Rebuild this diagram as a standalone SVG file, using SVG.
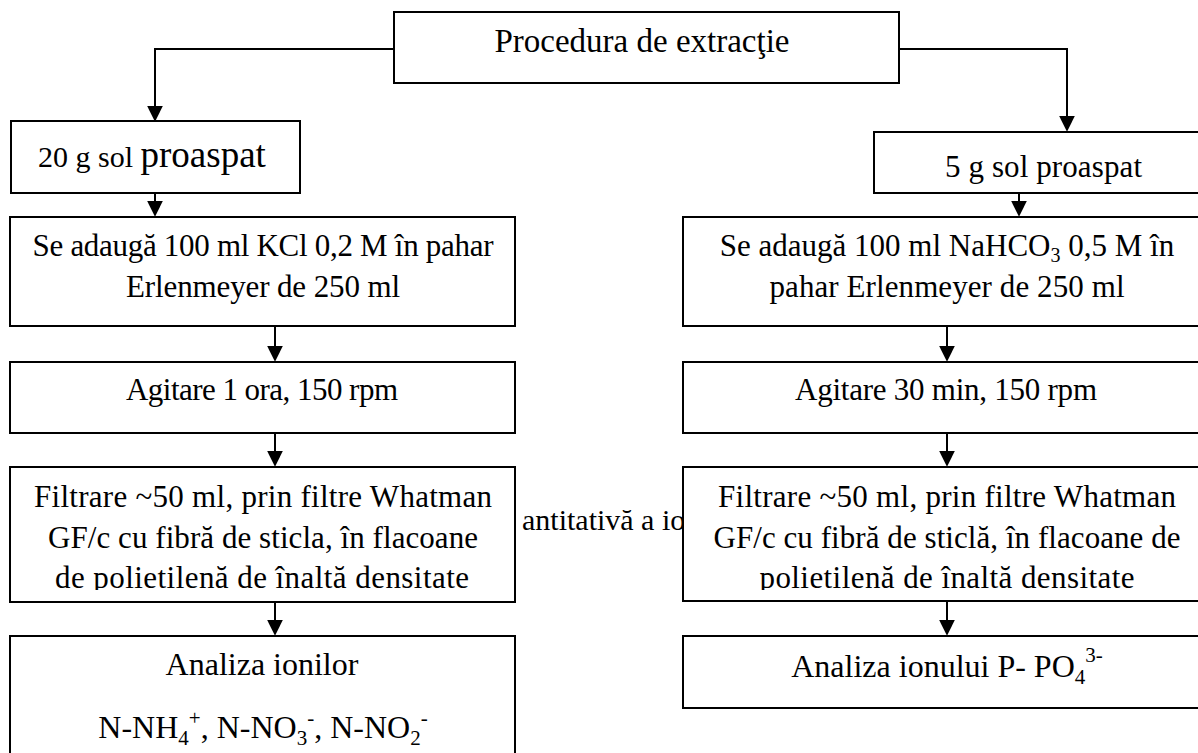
<svg xmlns="http://www.w3.org/2000/svg" width="1198" height="753" viewBox="0 0 1198 753">
<style>
.box{fill:#fff;stroke:#000;stroke-width:2}
.c{fill:none;stroke:#000;stroke-width:2}
.t{font-family:"Liberation Serif","Times New Roman",serif;font-size:32px;fill:#000}
.k{font-family:"Liberation Serif","Times New Roman",serif;font-size:31px;fill:#000}
.m{text-anchor:middle}
</style>
<defs>
<marker id="ah" markerUnits="userSpaceOnUse" markerWidth="16" markerHeight="16" viewBox="0 0 15 15" refX="5" refY="7.5" orient="auto">
<path d="M0,0 L15,7.5 L0,15 z" fill="#000"/>
</marker>
<clipPath id="clipL"><rect x="10" y="467" width="505" height="123"/></clipPath>
<clipPath id="clipR"><rect x="683" y="467" width="528" height="123"/></clipPath>
</defs>
<rect width="1198" height="753" fill="#fff"/>
<text class="t" x="522" y="530" style="font-size:30px">antitativă a io</text>
<g id="connectors">
<path class="c" d="M394,49 H155 V111" marker-end="url(#ah)"/>
<path class="c" d="M899,49 H1067 V121" marker-end="url(#ah)"/>
<path class="c" d="M155,193 V206" marker-end="url(#ah)"/>
<path class="c" d="M275,326 V351" marker-end="url(#ah)"/>
<path class="c" d="M275,433 V456" marker-end="url(#ah)"/>
<path class="c" d="M275,602 V625" marker-end="url(#ah)"/>
<path class="c" d="M1019,193 V206" marker-end="url(#ah)"/>
<path class="c" d="M947,326 V351" marker-end="url(#ah)"/>
<path class="c" d="M947,433 V456" marker-end="url(#ah)"/>
<path class="c" d="M947,601 V625" marker-end="url(#ah)"/>
</g>
<g id="top">
<rect class="box" x="394" y="12" width="505" height="71"/>
<text class="t m" x="642" y="52" style="font-size:33px">Procedura de extracţie</text>
</g>
<g id="left1">
<rect class="box" x="11" y="121" width="289" height="72"/>
<text class="k" x="38" y="167" style="font-size:30px">20 g sol <tspan style="font-size:37px">proaspat</tspan></text>
</g>
<g id="right1">
<rect class="box" x="874" y="132" width="340" height="61"/>
<text class="k" x="945" y="177" textLength="197">5 g sol proaspat</text>
</g>
<g id="left2">
<rect class="box" x="10" y="217" width="505" height="109"/>
<text class="k m" x="263" y="256" textLength="461">Se adaugă 100 ml KCl 0,2 M în pahar</text>
<text class="k m" x="263" y="297" textLength="274">Erlenmeyer de 250 ml</text>
</g>
<g id="right2">
<rect class="box" x="683" y="217" width="528" height="109"/>
<text class="k m" x="947" y="256">Se adaugă 100 ml NaHCO<tspan dy="6" style="font-size:20px">3</tspan><tspan dy="-6"> 0,5 M în</tspan></text>
<text class="k m" x="947" y="297" textLength="355">pahar Erlenmeyer de 250 ml</text>
</g>
<g id="left3">
<rect class="box" x="10" y="362" width="505" height="71"/>
<text class="k m" x="262" y="400" textLength="272">Agitare 1 ora, 150 rpm</text>
</g>
<g id="right3">
<rect class="box" x="683" y="362" width="528" height="71"/>
<text class="k m" x="946" y="400" textLength="302">Agitare 30 min, 150 rpm</text>
</g>
<g id="left4">
<rect class="box" x="10" y="467" width="505" height="135"/>
<g clip-path="url(#clipL)">
<text class="k m" x="263" y="507" textLength="458">Filtrare ~50 ml, prin filtre Whatman</text>
<text class="k m" x="263" y="548" textLength="430">GF/c cu fibră de sticla, în flacoane</text>
<text class="k m" x="262" y="588" textLength="414">de polietilenă de înaltă densitate</text>
</g>
</g>
<g id="right4">
<rect class="box" x="683" y="467" width="528" height="134"/>
<g clip-path="url(#clipR)">
<text class="k m" x="947" y="507" textLength="458">Filtrare ~50 ml, prin filtre Whatman</text>
<text class="k m" x="947" y="548" textLength="467">GF/c cu fibră de sticlă, în flacoane de</text>
<text class="k m" x="947" y="588" textLength="375">polietilenă de înaltă densitate</text>
</g>
</g>
<g id="left5">
<rect class="box" x="10" y="636" width="505" height="140"/>
<text class="t m" x="262" y="675">Analiza ionilor</text>
<text class="t m" x="263" y="738">N-NH<tspan dy="7" style="font-size:21px">4</tspan><tspan dy="-20" style="font-size:21px">+</tspan><tspan dy="13">, N-NO</tspan><tspan dy="7" style="font-size:21px">3</tspan><tspan dy="-20" style="font-size:21px">-</tspan><tspan dy="13">, N-NO</tspan><tspan dy="7" style="font-size:21px">2</tspan><tspan dy="-20" style="font-size:21px">-</tspan></text>
</g>
<g id="right5">
<rect class="box" x="683" y="636" width="528" height="72"/>
<text class="t m" x="947" y="677">Analiza ionului P- PO<tspan dy="7" style="font-size:21px">4</tspan><tspan dy="-22" style="font-size:21px">3-</tspan></text>
</g>
</svg>
